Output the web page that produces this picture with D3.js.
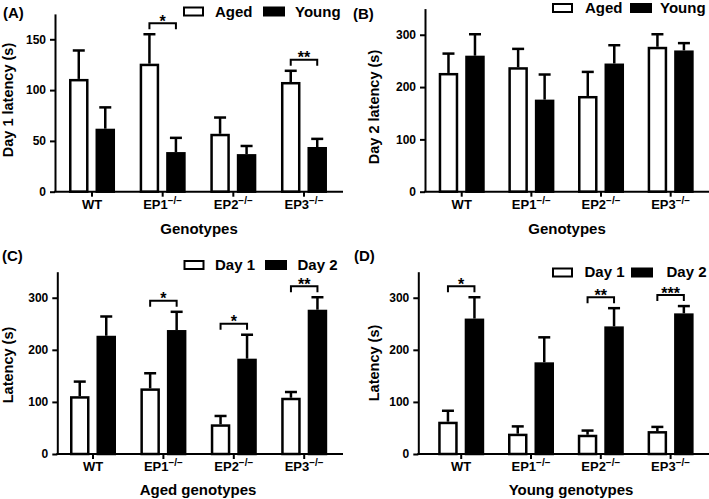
<!DOCTYPE html>
<html><head><meta charset="utf-8">
<script src="https://cdn.jsdelivr.net/npm/d3@7"></script>
<style>
body{margin:0;background:#fff}
svg{display:block}
text{font-family:"Liberation Sans",Arial,sans-serif;font-weight:bold;fill:#000}
</style>
</head><body><svg id="chart" width="709" height="499"></svg>
<script>
// ---------- data ----------
const genotypes = ["WT", "EP1", "EP2", "EP3"];
const genotypeSup = ["", "\u2212/\u2212", "\u2212/\u2212", "\u2212/\u2212"];
const agedDay1 = [111, 126, 57, 108];
const agedDay1Err = [28, 29, 16, 11];
const youngDay1 = [62, 39, 37, 44];
const youngDay1Err = [21, 14, 8, 8];
const agedDay2 = [227, 238, 183, 277];
const agedDay2Err = [37, 35, 46, 24];
const youngDay2 = [260, 176, 245, 270];
const youngDay2Err = [41, 48, 35, 14];
const ticksA = [0, 50, 100, 150];
const ticksBCD = [0, 100, 200, 300];
const legendAB = ["Aged", "Young"];
const legendCD = ["Day 1", "Day 2"];
const sigA = [["EP1", "*"], ["EP3", "**"]];
const sigB = [];
const sigC = [["EP1", "*"], ["EP2", "*"], ["EP3", "**"]];
const sigD = [["WT", "*"], ["EP2", "**"], ["EP3", "***"]];

// ---------- layout ----------
const svg = d3.select("#chart");
const panels = [
  {label:"(A)", lx:3, ly:18, left:55, right:343, bs:56.7, be:339.3, top:13.9, bottom:191.7, ymax:175, ticks:ticksA,
   ytitle:"Day 1 latency (s)", ytx:12.5, yty:100, xtitle:"Genotypes", xtx:199, xty:233.5,
   series:[[agedDay1, agedDay1Err], [youngDay1, youngDay1Err]], sig:sigA,
   legend:legendAB, leg:{b1:183, t1:215, b2:263, t2:295, by:6.5, ty:16.5}},
  {label:"(B)", lx:353, ly:19, left:425, right:709, bs:426.9, be:705.5, top:8.6, bottom:191.7, ymax:350, ticks:ticksBCD,
   ytitle:"Day 2 latency (s)", ytx:379, yty:107, xtitle:"Genotypes", xtx:567, xty:233.5,
   series:[[agedDay2, agedDay2Err], [youngDay2, youngDay2Err]], sig:sigB,
   legend:legendAB, leg:{b1:552, t1:585, b2:630, t2:660, by:3, ty:13}},
  {label:"(C)", lx:2, ly:261, left:57.3, right:343, bs:57.8, be:339.4, top:271.7, bottom:454, ymax:350, ticks:ticksBCD,
   ytitle:"Latency (s)", ytx:12.5, yty:365, xtitle:"Aged genotypes", xtx:198, xty:494.5,
   series:[[agedDay1, agedDay1Err], [agedDay2, agedDay2Err]], sig:sigC,
   legend:legendCD, leg:{b1:183.5, t1:215, b2:265, t2:297.5, by:260, ty:269.5}},
  {label:"(D)", lx:354, ly:261, left:418.3, right:709, bs:426.3, be:705.5, top:271.7, bottom:454, ymax:350, ticks:ticksBCD,
   ytitle:"Latency (s)", ytx:379, yty:363, xtitle:"Young genotypes", xtx:571, xty:494.5,
   series:[[youngDay1, youngDay1Err], [youngDay2, youngDay2Err]], sig:sigD,
   legend:legendCD, leg:{b1:552, t1:584.5, b2:631, t2:666.5, by:267.5, ty:277}}
];

const fills = ["#fff", "#000"];

panels.forEach(cfg => {
  const g = svg.append("g");
  const y = d3.scaleLinear().domain([0, cfg.ymax]).range([cfg.bottom, cfg.top]);
  const x0 = d3.scaleBand().domain(genotypes).range([cfg.bs, cfg.be]);
  const x1 = d3.scaleBand().domain([0, 1]).range([-23, 23]).paddingInner(0.264);
  const bw = x1.bandwidth();
  const cx = gname => x0(gname) + x0.bandwidth() / 2;

  // bars + error bars
  cfg.series.forEach(([vals, errs], si) => {
    const data = genotypes.map((gn, i) => ({gn, v: vals[i], e: errs[i]}));
    const sg = g.append("g");
    sg.selectAll("line.err").data(data).join("line")
      .attr("x1", d => cx(d.gn) + x1(si) + bw / 2).attr("x2", d => cx(d.gn) + x1(si) + bw / 2)
      .attr("y1", d => y(d.v)).attr("y2", d => y(d.v + d.e))
      .attr("stroke", "#000").attr("stroke-width", 2.5);
    sg.selectAll("line.cap").data(data).join("line")
      .attr("x1", d => cx(d.gn) + x1(si) + bw / 2 - 6).attr("x2", d => cx(d.gn) + x1(si) + bw / 2 + 6)
      .attr("y1", d => y(d.v + d.e)).attr("y2", d => y(d.v + d.e))
      .attr("stroke", "#000").attr("stroke-width", 2.5);
    sg.selectAll("rect").data(data).join("rect")
      .attr("x", d => cx(d.gn) + x1(si) + 1.25)
      .attr("width", bw - 2.5)
      .attr("y", d => y(d.v) + 1.25)
      .attr("height", d => cfg.bottom - y(d.v) - 1.25)
      .attr("fill", fills[si]).attr("stroke", "#000").attr("stroke-width", 2.5);
  });

  // y axis
  const ya = g.append("g").attr("transform", `translate(${cfg.left},0)`)
    .call(d3.axisLeft(y).tickValues(cfg.ticks).tickSize(5).tickSizeOuter(0).tickPadding(4));
  ya.selectAll("path,line").attr("stroke", "#000").attr("stroke-width", 2);
  ya.selectAll("text").attr("font-size", 12).attr("font-family", null);

  // x axis
  const xa = g.append("g").attr("transform", `translate(0,${cfg.bottom})`)
    .call(d3.axisBottom(x0).tickSize(5).tickSizeOuter(0).tickPadding(3));
  xa.select(".domain").remove();
  xa.selectAll("line").attr("stroke", "#000").attr("stroke-width", 2);
  g.append("line").attr("x1", cfg.left - 1).attr("x2", cfg.right)
    .attr("y1", cfg.bottom).attr("y2", cfg.bottom).attr("stroke", "#000").attr("stroke-width", 2);
  xa.selectAll("text").attr("font-size", 13).attr("font-family", null)
    .each(function(d, i) {
      const t = d3.select(this);
      t.text(null);
      t.append("tspan").text(d);
      const sup = genotypeSup[genotypes.indexOf(d)];
      if (sup) t.append("tspan").attr("font-size", 10).attr("dy", -5).text(sup);
    });

  // significance brackets
  cfg.sig.forEach(([gn, stars]) => {
    const i = genotypes.indexOf(gn);
    const tops = cfg.series.map(([v, e]) => y(v[i] + e[i]));
    const by = Math.min(...tops) - 11;
    const xa0 = cx(gn) + x1(0) + bw / 2, xa1 = cx(gn) + x1(1) + bw / 2;
    g.append("path")
      .attr("d", `M${xa0},${by + 6}V${by}H${xa1}V${by + 6}`)
      .attr("fill", "none").attr("stroke", "#000").attr("stroke-width", 2);
    g.append("text").attr("x", (xa0 + xa1) / 2).attr("y", by + 3.5)
      .attr("text-anchor", "middle").attr("font-size", 16).text(stars);
  });

  // titles
  g.append("text").attr("x", cfg.lx).attr("y", cfg.ly).attr("font-size", 15).text(cfg.label);
  g.append("text").attr("transform", `translate(${cfg.ytx},${cfg.yty}) rotate(-90)`)
    .attr("text-anchor", "middle").attr("font-size", 14.5).text(cfg.ytitle);
  g.append("text").attr("x", cfg.xtx).attr("y", cfg.xty).attr("text-anchor", "middle")
    .attr("font-size", 15).text(cfg.xtitle);

  // legend
  const L = cfg.leg;
  g.append("rect").attr("x", L.b1 + 1).attr("y", L.by + 1).attr("width", 19).attr("height", 8)
    .attr("fill", "#fff").attr("stroke", "#000").attr("stroke-width", 2);
  g.append("text").attr("x", L.t1).attr("y", L.ty).attr("font-size", 15).text(cfg.legend[0]);
  g.append("rect").attr("x", L.b2 + 1).attr("y", L.by + 1).attr("width", 20).attr("height", 8)
    .attr("fill", "#000").attr("stroke", "#000").attr("stroke-width", 2);
  g.append("text").attr("x", L.t2).attr("y", L.ty).attr("font-size", 15).text(cfg.legend[1]);
});
</script>
</body></html>
